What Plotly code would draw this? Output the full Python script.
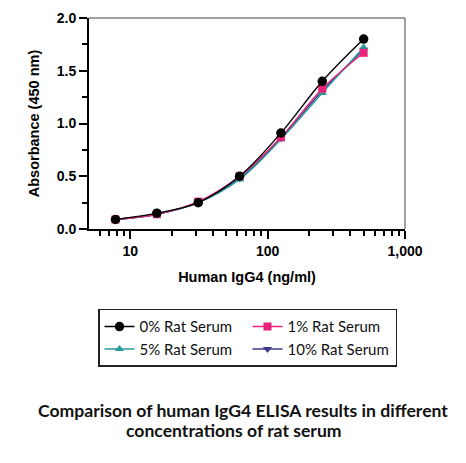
import plotly.graph_objects as go

conc = [7.8125, 15.625, 31.25, 62.5, 125, 250, 500]
s0 = [0.09, 0.15, 0.25, 0.50, 0.91, 1.40, 1.80]
s1 = [0.09, 0.14, 0.26, 0.50, 0.87, 1.33, 1.67]
s5 = [0.09, 0.14, 0.25, 0.47, 0.85, 1.29, 1.72]
s10 = [0.09, 0.14, 0.25, 0.48, 0.86, 1.31, 1.70]

names = ["0% Rat Serum", "1% Rat Serum", "5% Rat Serum", "10% Rat Serum"]
x_major = [10, 100, 1000]
x_labels = ["10", "100", "1,000"]
x_minor = [6, 7, 8, 9, 20, 30, 40, 50, 60, 70, 80, 90,
           200, 300, 400, 500, 600, 700, 800, 900]
y_major = [0, 0.5, 1.0, 1.5, 2.0]
y_labels = ["0.0", "0.5", "1.0", "1.5", "2.0"]
y_minor = [0.25, 0.75, 1.25, 1.75]
title_lines = ["Comparison of human IgG4 ELISA results in different",
               "concentrations of rat serum"]

series = [
    (names[3], s10, "#3b3a8c", "triangle-down", 8, 4),
    (names[2], s5, "#2a9a9c", "triangle-up", 8, 3),
    (names[1], s1, "#e8217a", "square", 8, 2),
    (names[0], s0, "#000000", "circle", 9.5, 1),
]

fig = go.Figure()
for name, ys, col, sym, sz, rank in series:
    fig.add_trace(go.Scatter(
        x=conc, y=ys, name=name, mode="lines+markers",
        line=dict(color=col, width=1.4, shape="spline"),
        marker=dict(color=col, symbol=sym, size=sz),
        legendrank=rank,
    ))

W, H = 466, 463
OFF = 8  # page body margin seen in the screenshot
L, R, T, B = 81, 69, 9.5, 242
pw, ph = W - L - R, H - T - B


def sx(x):
    return (x - OFF - L) / pw


def sy(y):
    return (H - B - (y - OFF)) / ph


fig.update_layout(
    width=W, height=H,
    margin=dict(l=L, r=R, t=T, b=B, autoexpand=False),
    paper_bgcolor="white", plot_bgcolor="white",
    font=dict(family="Liberation Sans, Arial", color="black"),
    showlegend=True,
    legend=dict(
        orientation="h", x=sx(98), y=sy(309), xanchor="left", yanchor="top",
        entrywidth=103, entrywidthmode="pixels",
        bgcolor="white", bordercolor="#222222", borderwidth=1.5,
        font=dict(family="Lato, Liberation Sans", size=15, color="#111111"),
        itemwidth=30, tracegroupgap=0,
    ),
    xaxis=dict(
        type="log", range=[0.7, 3.0],
        tickmode="array", tickvals=x_major,
        ticktext=["<b>%s</b>" % t for t in x_labels],
        ticks="outside", ticklen=8, tickwidth=1.5, tickcolor="black",
        showline=True, linecolor="black", linewidth=2,
        showgrid=False, zeroline=False,
        tickfont=dict(size=14, family="Liberation Sans"),
        minor=dict(tickmode="array", tickvals=x_minor, ticks="outside",
                   ticklen=5, tickwidth=1.5, tickcolor="black", showgrid=False),
        title=dict(text="<b>Human IgG4 (ng/ml)</b>", font=dict(size=14.5), standoff=14),
    ),
    yaxis=dict(
        range=[0, 2.0],
        tickmode="array", tickvals=y_major,
        ticktext=["<b>%s</b>" % t for t in y_labels],
        ticks="outside", ticklen=8, tickwidth=1.5, tickcolor="black",
        showline=True, linecolor="black", linewidth=2,
        showgrid=False, zeroline=False,
        tickfont=dict(size=14, family="Liberation Sans"),
        minor=dict(tickmode="array", tickvals=y_minor, ticks="outside",
                   ticklen=5, tickwidth=1.5, tickcolor="black", showgrid=False),
        title=dict(text="<b>Absorbance (450 nm)</b>", font=dict(size=14.5), standoff=14),
    ),
)

# thin frame on top and right
fig.add_shape(type="line", xref="paper", yref="paper", x0=0, x1=1, y0=1, y1=1,
              line=dict(color="#444444", width=1))
fig.add_shape(type="line", xref="paper", yref="paper", x0=1, x1=1, y0=0, y1=1,
              line=dict(color="#444444", width=1))
# legend shadow
fig.add_shape(type="rect", xref="paper", yref="paper",
              x0=sx(101), x1=sx(396), y0=sy(364), y1=sy(312),
              line=dict(width=0), fillcolor="#555555")

for txt, cx, cy in [(title_lines[0], 243, 411), (title_lines[1], 234, 431)]:
    fig.add_annotation(
        text=txt, xref="paper", yref="paper", x=sx(cx), y=sy(cy),
        xanchor="center", yanchor="middle", showarrow=False,
        font=dict(family="Lato", size=17.6, color="#111111", weight="bold"),
    )

fig.write_html("out.html")
